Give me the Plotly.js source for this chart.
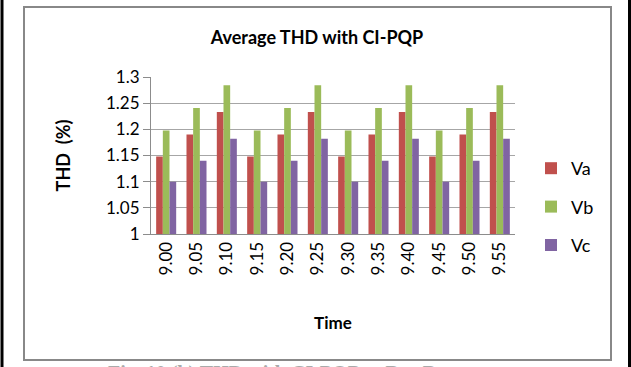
<!DOCTYPE html>
<html>
<head>
<meta charset="utf-8">
<script src="https://cdn.plot.ly/plotly-3.0.1.min.js"></script>
<style>
html,body{margin:0;padding:0;background:#fff;}
#chart{width:631px;height:367px;}
</style>
</head>
<body>
<div id="chart"></div>
<script>
var times = ["9.00","9.05","9.10","9.15","9.20","9.25","9.30","9.35","9.40","9.45","9.50","9.55"];
var va = [1.148,1.19,1.233,1.148,1.19,1.233,1.148,1.19,1.233,1.148,1.19,1.233];
var vb = [1.198,1.241,1.284,1.198,1.241,1.284,1.198,1.241,1.284,1.198,1.241,1.284];
var vc = [1.1,1.14,1.182,1.1,1.14,1.182,1.1,1.14,1.182,1.1,1.14,1.182];
var yTicks = [1,1.05,1.1,1.15,1.2,1.25,1.3];
var yTickText = ["1","1.05","1.1","1.15","1.2","1.25","1.3"];

var FONT = "Lato, 'Open Sans', sans-serif";

var traces = [
  {type:'bar', name:'Va', x:times, y:va, marker:{color:'#C0504D'}, legendgroup:'a'},
  {type:'bar', name:'Vb', x:times, y:vb, marker:{color:'#9BBB59'}, legendgroup:'b'},
  {type:'bar', name:'Vc', x:times, y:vc, marker:{color:'#8064A2'}, legendgroup:'c'}
];

// plot area in px: x 151..515, y 77..234
function px(v){return (v-151)/364;}
function py(v){return (234-v)/157;}

var layout = {
  width:631, height:367,
  margin:{l:151, r:116, t:77, b:133, pad:0},
  paper_bgcolor:'#fff', plot_bgcolor:'#fff',
  font:{family:FONT, size:17, color:'#000'},
  barmode:'group', bargap:0.34, bargroupgap:0,
  showlegend:true,
  legend:{x:px(531), y:py(150), xanchor:'left', yanchor:'top', itemwidth:30,
          font:{family:FONT, size:18, color:'#000'}, tracegroupgap:12,
          bgcolor:'rgba(0,0,0,0)'},
  title:{text:'<b>Average THD with CI-PQP</b>', x:317/631, xanchor:'center',
         y:1-38/367, yanchor:'middle', font:{family:FONT, size:18, color:'#000'}},
  xaxis:{type:'category', tickangle:-90, showgrid:false, showline:true,
         linecolor:'#8c8c8c', linewidth:1, ticks:'', tickfont:{size:17},
         title:{text:'<b>Time</b>', font:{size:17}, standoff:42},
         automargin:false, fixedrange:true},
  yaxis:{range:[1,1.3], tickvals:yTicks, ticktext:yTickText, showgrid:true,
         gridcolor:'#a6a6a6', gridwidth:1, showline:true, linecolor:'#8c8c8c',
         ticks:'outside', ticklen:7, tickcolor:'#8c8c8c', tickfont:{size:17},
         zeroline:false,
         title:{text:'<b>THD  (%)</b>', font:{size:18}, standoff:30},
         automargin:false, fixedrange:true},
  shapes:[
    {type:'rect', xref:'paper', yref:'paper', x0:px(24), x1:px(611), y0:py(360), y1:py(7),
     line:{color:'#888888', width:2}, layer:'below'},
    {type:'line', xref:'paper', yref:'paper', x0:px(2), x1:px(2), y0:py(400), y1:py(-10),
     line:{color:'#000', width:3}},
    {type:'line', xref:'paper', yref:'paper', x0:px(629.5), x1:px(629.5), y0:py(400), y1:py(-10),
     line:{color:'#000', width:3}}
  ],
  annotations:[
    {text:'<b>Fig. 10 (b) THD with CI-PQP at Bus B</b>', xref:'paper', yref:'paper',
     x:px(106), y:py(360), xanchor:'left', yanchor:'top', showarrow:false,
     font:{family:"'Liberation Serif', serif", size:20, color:'#aaaaaa'}}
  ]
};

Plotly.newPlot('chart', traces, layout, {displayModeBar:false, staticPlot:true});
</script>
</body>
</html>
